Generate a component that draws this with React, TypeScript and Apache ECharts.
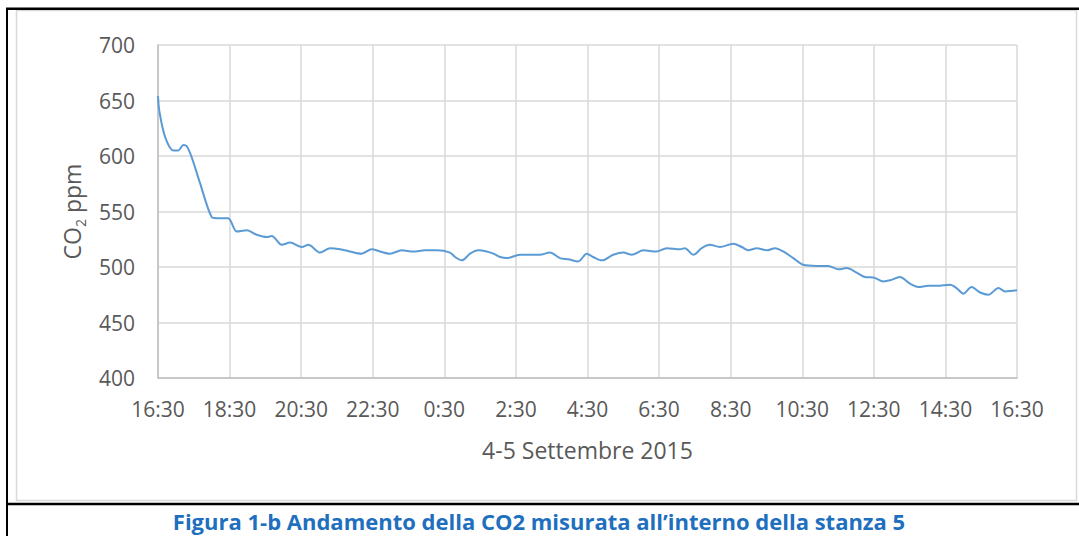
import React, { useEffect, useRef } from "react";
import * as echarts from "echarts";

// hours elapsed since 16:30 of 4 September 2015
const hours = [
  0, 0.04, 0.2, 0.43, 0.57, 0.71, 0.8, 0.94, 1.17, 1.5,
  1.64, 1.96, 2.2, 2.48, 2.76, 3.04, 3.18, 3.46, 3.69, 4.02,
  4.2, 4.53, 4.81, 5.09, 5.36, 5.69, 5.97, 6.2, 6.48, 6.81,
  7.13, 7.46, 7.79, 8.16, 8.3, 8.49, 8.72, 8.95, 9.18, 9.37,
  9.56, 9.74, 10.11, 10.67, 10.95, 11.23, 11.46, 11.74, 11.98, 12.16,
  12.4, 12.72, 13.0, 13.24, 13.56, 13.93, 14.21, 14.59, 14.72, 14.96,
  15.19, 15.42, 15.7, 16.07, 16.31, 16.49, 16.73, 17.01, 17.24, 17.47,
  17.75, 18.03, 18.4, 18.73, 19.01, 19.24, 19.52, 19.75, 19.99, 20.27,
  20.45, 20.73, 21.01, 21.24, 21.52, 21.76, 22.13, 22.31, 22.5, 22.73,
  22.97, 23.2, 23.48, 23.67, 24.0,
];

// CO2 concentration (ppm)
const co2 = [
  654, 640, 617, 605, 605, 610, 609, 599, 576, 545,
  544, 544, 532, 533, 529, 527, 528, 520, 522, 518,
  520, 513, 517, 516, 514, 512, 516, 514, 512, 515,
  514, 515, 515, 513, 509, 506, 512, 515, 514, 512,
  509, 508, 511, 511, 513, 508, 507, 505, 512, 509,
  506, 511, 513, 511, 515, 514, 517, 516, 517, 511,
  517, 520, 518, 521, 518, 515, 517, 515, 517, 514,
  508, 502, 501, 501, 498, 499, 495, 491, 490.6, 487,
  488, 491, 485, 482, 483, 483, 484, 481, 476, 482,
  477, 475, 481, 478, 479,
];

const xTickLabels = [
  "16:30", "18:30", "20:30", "22:30", "0:30", "2:30", "4:30",
  "6:30", "8:30", "10:30", "12:30", "14:30", "16:30",
];

const xTitle = "4-5 Settembre 2015";
const caption = "Figura 1-b Andamento della CO2 misurata all\u2019interno della stanza 5";

const FONT = "'Open Sans', 'Noto Sans', sans-serif";
const TEXT = "#595959";

export default function App() {
  const ref = useRef<HTMLDivElement>(null);

  useEffect(() => {
    if (!ref.current) return;
    const chart = echarts.init(ref.current, null, { renderer: "svg" });
    const data = hours.map((h, i) => [h, co2[i]]);
    chart.setOption({
      animation: false,
      backgroundColor: "#ffffff",
      grid: { left: 158, top: 45, right: 62, bottom: 158, containLabel: false },
      xAxis: {
        type: "value",
        min: 0,
        max: 24,
        interval: 2,
        name: xTitle,
        nameLocation: "middle",
        nameGap: 60,
        nameTextStyle: { color: TEXT, fontSize: 23, fontFamily: FONT },
        axisLine: { show: true, lineStyle: { color: "#bfbfbf", width: 1.5 } },
        axisTick: { show: false },
        splitLine: { show: true, lineStyle: { color: "#d9d9d9", width: 1.5 } },
        axisLabel: {
          color: TEXT,
          fontSize: 21,
          fontFamily: FONT,
          margin: 20,
          formatter: (v: number) => xTickLabels[Math.round(v / 2)] ?? "",
        },
      },
      yAxis: {
        type: "value",
        min: 400,
        max: 700,
        interval: 50,
        name: "{a|CO}{s|2}{a| ppm}",
        nameLocation: "middle",
        nameRotate: 90,
        nameGap: 71,
        nameTextStyle: {
          color: TEXT,
          fontFamily: FONT,
          rich: {
            a: { fontSize: 23, lineHeight: 30, color: TEXT, fontFamily: FONT },
            s: { fontSize: 14, lineHeight: 14, verticalAlign: "bottom", color: TEXT, fontFamily: FONT },
          },
        },
        axisLine: { show: true, lineStyle: { color: "#bfbfbf", width: 1.5 } },
        axisTick: { show: false },
        splitLine: { show: true, lineStyle: { color: "#d9d9d9", width: 1.5 } },
        axisLabel: { color: TEXT, fontSize: 21, fontFamily: FONT, margin: 23 },
      },
      series: [
        {
          type: "line",
          data,
          smooth: 0.3,
          showSymbol: false,
          symbol: "none",
          lineStyle: { color: "#5b9bd5", width: 2 },
        },
      ],
      graphic: [
        {
          type: "rect",
          shape: { x: 16.5, y: 10.5, width: 1060, height: 490 },
          style: { fill: "none", stroke: "#d9d9d9", lineWidth: 1.5 },
          silent: true,
        },
        {
          type: "line",
          shape: { x1: 6, y1: 8.75, x2: 1079, y2: 8.75 },
          style: { stroke: "#000", lineWidth: 2.5 },
          silent: true,
        },
        {
          type: "line",
          shape: { x1: 7, y1: 8, x2: 7, y2: 536 },
          style: { stroke: "#000", lineWidth: 2 },
          silent: true,
        },
        {
          type: "line",
          shape: { x1: 6, y1: 504, x2: 1079, y2: 504 },
          style: { stroke: "#000", lineWidth: 2.5 },
          silent: true,
        },
        {
          type: "text",
          x: 539,
          y: 521,
          style: {
            text: caption,
            fill: "#1f6fbf",
            font: `bold 22px ${FONT}`,
            lineHeight: 22,
            align: "center",
            verticalAlign: "middle",
          },
          silent: true,
        },
      ],
    });
    return () => chart.dispose();
  }, []);

  return (
    <div
      ref={ref}
      style={{ position: "absolute", left: 0, top: 0, width: 1079, height: 536, background: "#fff" }}
    />
  );
}
